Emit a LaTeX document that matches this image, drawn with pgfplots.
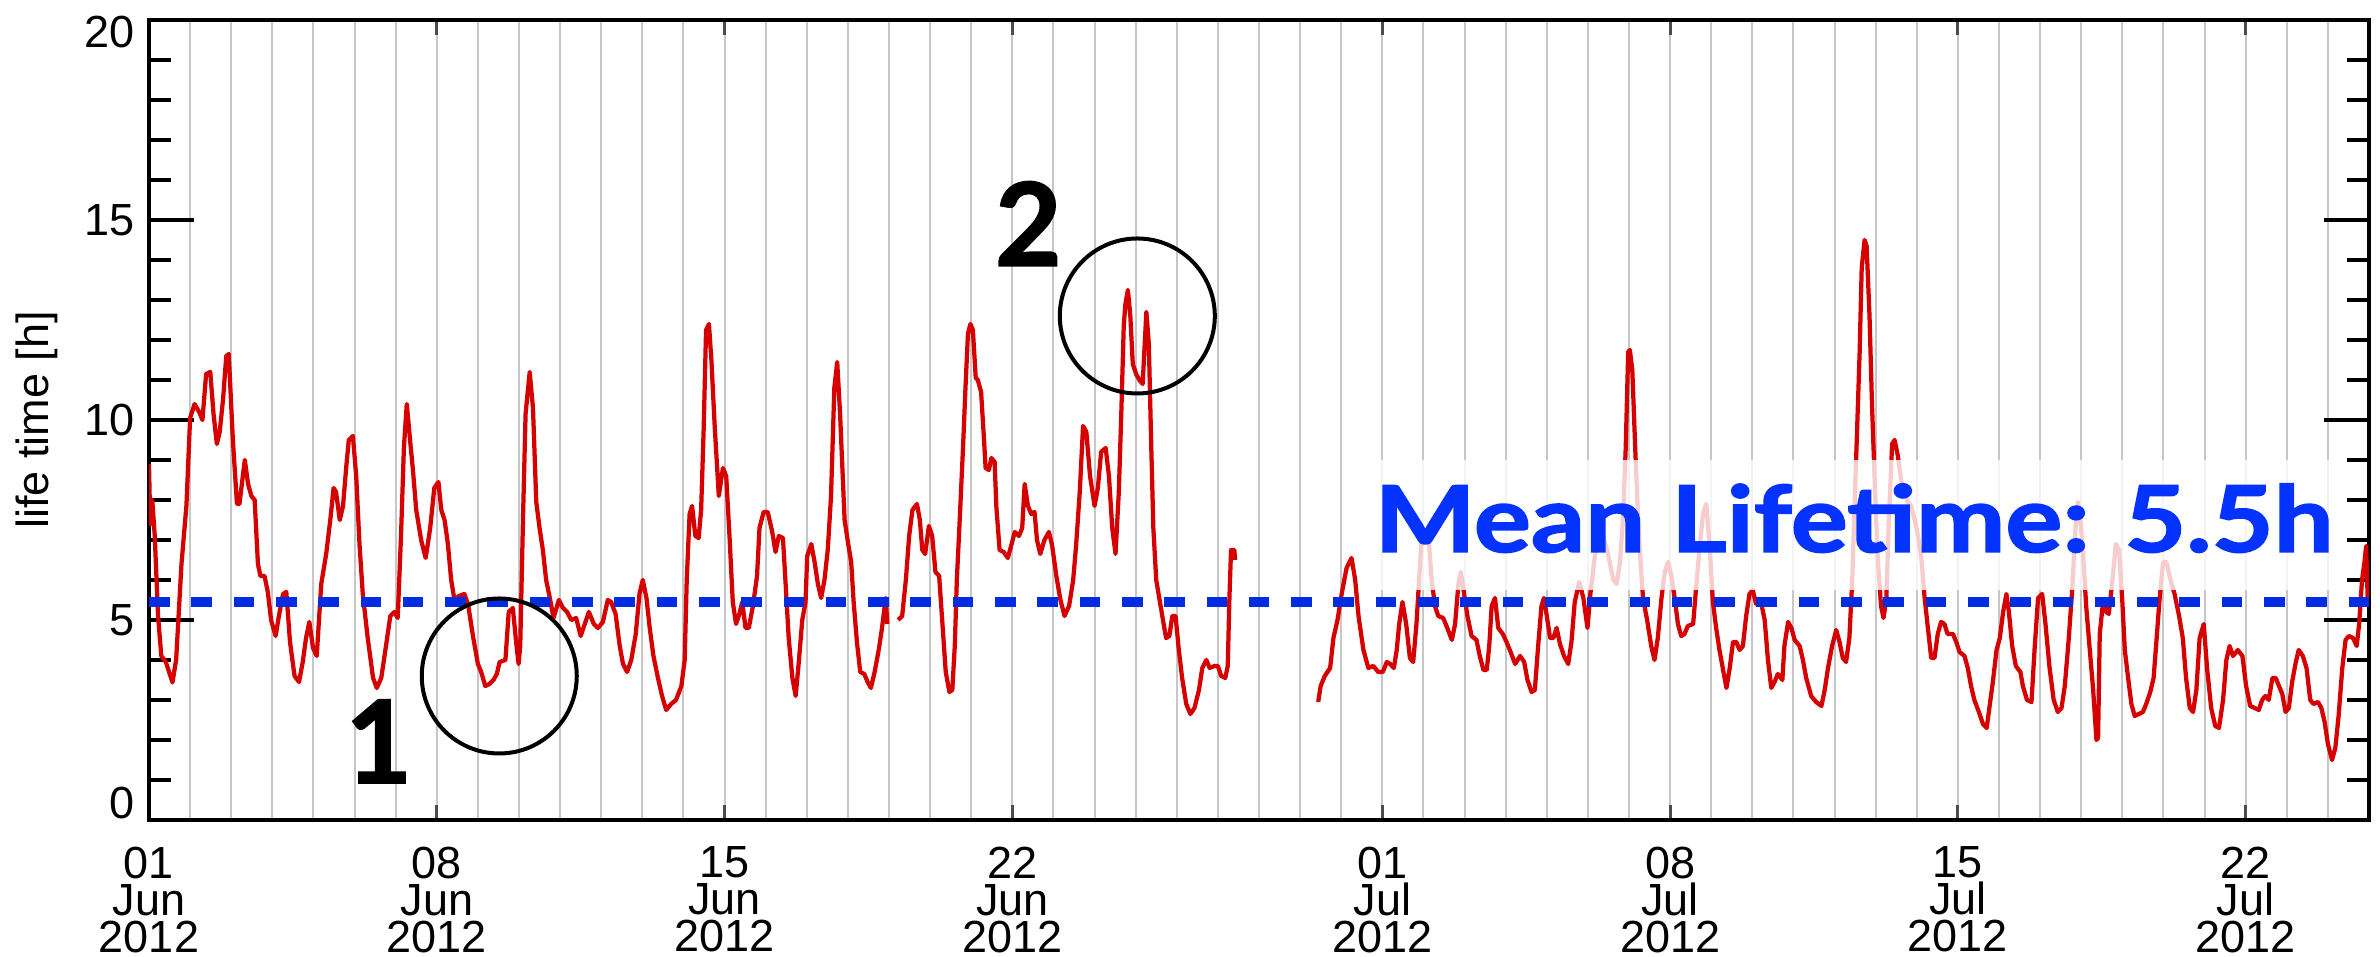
\documentclass[border=0pt]{standalone}
\usepackage{pgfplots}
\pgfplotsset{compat=1.18}
\usepackage{fontspec}
\setmainfont{Liberation Sans}
\newfontfamily\boldfont{Lato}[BoldFeatures={FakeBold=1.6}]
\usetikzlibrary{calc}
\definecolor{lred}{RGB}{215,0,0}
\definecolor{mblue}{RGB}{0,45,225}
\definecolor{tblue}{RGB}{4,51,255}
\begin{document}
\begin{tikzpicture}
\begin{axis}[
  width=444pt, height=160pt, scale only axis,
  xmin=0, xmax=54, ymin=0, ymax=20,
  axis line style={line width=0.75pt},
  xtick={0,7,14,21,30,37,44,51},
  xticklabels={01\\Jun\\2012, 08\\Jun\\2012, 15\\Jun\\2012, 22\\Jun\\2012, 01\\Jul\\2012, 08\\Jul\\2012, 15\\Jul\\2012, 22\\Jul\\2012},
  minor xtick={1,...,53},
  xmajorgrids, xminorgrids,
  major grid style={line width=0.4pt, color=black!22},
  minor grid style={line width=0.4pt, color=black!22},
  xtick style={/pgfplots/major tick length=3pt, /pgfplots/minor tick length=0pt, line width=0.6pt, black!70},
  ytick={0,5,10,15,20}, yticklabels={,5,10,15,},
  minor y tick num=4,
  ytick style={/pgfplots/major tick length=9pt, /pgfplots/minor tick length=4.4pt, line width=0.75pt, black},
  tick align=inside,
  xtick pos=both, ytick pos=both,
  xticklabel pos=lower, yticklabel pos=left,
  xticklabel style={align=center, inner sep=0pt, yshift=-5.2pt, font=\fontsize{9}{7.4}\selectfont},
  yticklabel style={inner sep=0pt, xshift=-2.6pt, font=\fontsize{9}{9}\selectfont},
  /pgf/number format/assume math mode=true,
  ylabel={life time [h]},
  ylabel style={at={(axis description cs:-0.0505,0.5)}, anchor=center, font=\fontsize{9}{9}\selectfont},
  clip mode=individual,
]
\coordinate (ll) at (rel axis cs:0,0);
\coordinate (ur) at (rel axis cs:1,1);
\addplot[lred, line width=0.85pt, line join=round, unbounded coords=jump] coordinates {
(0.00,8.9) (0.03,7.4) (0.08,8.0) (0.14,7.1) (0.22,5.1) (0.30,4.1) (0.41,3.95) (0.57,3.44) (0.66,4.0) (0.79,6.4) (0.91,7.85)
(1.00,10.05) (1.11,10.4) (1.22,10.2) (1.30,10.0) (1.39,11.15) (1.49,11.2) (1.57,10.15) (1.65,9.4) (1.72,9.7) (1.80,10.5) (1.88,11.6) (1.94,11.65)
(2.04,9.5) (2.14,7.9) (2.20,7.9) (2.33,9.0) (2.41,8.4) (2.49,8.1) (2.57,8.0) (2.65,6.4) (2.71,6.1) (2.81,6.1) (2.89,5.7) (2.97,5.0)
(3.08,4.6) (3.16,5.1) (3.26,5.65) (3.34,5.7) (3.43,4.45) (3.54,3.6) (3.65,3.45) (3.74,3.95) (3.82,4.55) (3.90,4.95) (3.99,4.3)
(4.08,4.1) (4.19,5.9) (4.31,6.65) (4.41,7.5) (4.49,8.3) (4.55,8.2) (4.64,7.5) (4.72,7.85) (4.80,8.85) (4.86,9.5) (4.96,9.6)
(5.04,8.6) (5.12,6.9) (5.20,5.65) (5.32,4.55) (5.45,3.55) (5.54,3.3) (5.65,3.55) (5.75,4.25) (5.87,5.1) (5.97,5.2)
(6.05,5.05) (6.13,7.1) (6.20,9.3) (6.27,10.4) (6.35,9.5) (6.42,8.75) (6.50,7.75) (6.62,7.0) (6.73,6.55) (6.84,7.3) (6.94,8.3)
(7.04,8.45) (7.11,7.75) (7.19,7.5) (7.27,6.9) (7.35,6.0) (7.43,5.5) (7.54,5.6) (7.67,5.65) (7.76,5.4) (7.88,4.6)
(8.00,3.9) (8.08,3.7) (8.18,3.35) (8.28,3.4) (8.38,3.5) (8.46,3.65) (8.53,3.95) (8.67,4.0) (8.75,5.2) (8.85,5.3) (8.93,4.45) (8.99,3.9)
(9.03,4.35) (9.10,7.65) (9.16,10.15) (9.26,11.2) (9.34,10.3) (9.42,7.95) (9.50,7.3) (9.58,6.75) (9.66,6.0) (9.75,5.55) (9.84,5.05) (9.97,5.5)
(10.07,5.3) (10.17,5.2) (10.27,5.0) (10.39,5.05) (10.50,4.6) (10.60,4.9) (10.70,5.2) (10.82,4.9) (10.92,4.8)
(11.04,4.95) (11.16,5.5) (11.24,5.45) (11.35,5.15) (11.45,4.35) (11.53,3.9) (11.63,3.7) (11.73,4.0) (11.84,4.65) (11.93,5.65)
(12.01,6.0) (12.10,5.55) (12.18,4.8) (12.27,4.1) (12.38,3.55) (12.48,3.1) (12.58,2.75) (12.70,2.9) (12.82,3.0) (12.95,3.35)
(13.03,4.0) (13.08,6.0) (13.15,7.65) (13.21,7.85) (13.29,7.1) (13.37,7.05) (13.43,7.75) (13.49,9.7) (13.55,12.25) (13.62,12.4) (13.68,11.5) (13.76,9.85) (13.86,8.1) (13.96,8.8)
(14.04,8.6) (14.12,7.1) (14.20,5.45) (14.28,4.9) (14.36,5.15) (14.43,5.45) (14.51,4.8) (14.59,4.8) (14.69,5.35) (14.79,6.1) (14.85,7.3) (14.95,7.7)
(15.05,7.7) (15.16,7.2) (15.24,6.7) (15.32,7.1) (15.42,7.05) (15.48,6.0) (15.56,4.55) (15.65,3.55) (15.73,3.1) (15.81,4.0) (15.89,5.0) (15.97,5.45)
(16.01,6.6) (16.11,6.9) (16.19,6.45) (16.27,5.9) (16.35,5.55) (16.43,6.0) (16.51,6.75) (16.59,8.1) (16.67,10.8) (16.74,11.45) (16.81,10.15) (16.92,7.5)
(17.00,6.95) (17.08,6.45) (17.14,5.45) (17.22,4.45) (17.30,3.7) (17.40,3.65) (17.48,3.45) (17.56,3.3) (17.65,3.7) (17.75,4.25) (17.83,4.8) (17.92,5.55) (17.96,4.9)
(18.1,nan)
(18.22,5.0) (18.32,5.1) (18.41,6.0) (18.49,7.1) (18.57,7.75) (18.68,7.9) (18.75,7.5) (18.81,6.75) (18.88,6.65) (18.97,7.35)
(19.05,7.1) (19.13,6.2) (19.22,6.1) (19.30,4.9) (19.38,3.7) (19.47,3.2) (19.54,3.25) (19.60,4.35) (19.65,6.0) (19.72,7.5) (19.80,9.3) (19.86,10.8) (19.92,12.15) (19.98,12.4)
(20.04,12.25) (20.11,11.05) (20.16,11.0) (20.24,10.7) (20.30,9.7) (20.35,8.8) (20.43,8.75) (20.49,9.05) (20.57,8.95) (20.61,7.85) (20.69,6.75) (20.79,6.7) (20.89,6.55) (20.97,6.85)
(21.06,7.2) (21.16,7.1) (21.24,7.3) (21.30,8.4) (21.38,7.85) (21.46,7.65) (21.54,7.7) (21.60,7.0) (21.68,6.65) (21.78,7.0) (21.89,7.2) (21.97,6.85)
(22.07,6.1) (22.17,5.5) (22.27,5.1) (22.38,5.35) (22.48,6.0) (22.55,6.85) (22.64,8.2) (22.72,9.85) (22.80,9.7) (22.89,8.6)
(23.00,7.85) (23.08,8.3) (23.16,9.2) (23.27,9.3) (23.35,8.6) (23.43,7.3) (23.51,6.65) (23.59,8.2) (23.65,10.15) (23.71,12.35) (23.75,12.9) (23.81,13.25) (23.87,12.6) (23.93,11.4)
(24.01,11.15) (24.09,11.0) (24.17,10.9) (24.26,12.7) (24.32,11.9) (24.38,9.3) (24.43,7.3) (24.50,6.0) (24.59,5.45) (24.68,4.9) (24.74,4.55) (24.82,4.6) (24.89,5.1) (24.97,5.1)
(25.05,4.25) (25.13,3.55) (25.23,2.9) (25.33,2.65) (25.43,2.8) (25.54,3.25) (25.62,3.8) (25.72,4.0) (25.80,3.8) (25.92,3.85)
(26.00,3.85) (26.08,3.6) (26.18,3.55) (26.24,3.85) (26.28,5.55) (26.32,6.75) (26.40,6.75) (26.42,6.5)
(27.5,nan)
(28.44,2.95) (28.50,3.35) (28.60,3.6) (28.73,3.8) (28.81,4.55) (28.91,5.0)
(29.01,5.65) (29.13,6.3) (29.25,6.55) (29.34,6.0) (29.42,5.1) (29.54,4.25) (29.66,3.8) (29.78,3.85) (29.90,3.7)
(30.01,3.7) (30.11,3.95) (30.19,3.9) (30.28,3.8) (30.35,4.25) (30.41,4.9) (30.49,5.45) (30.58,4.9) (30.67,4.05) (30.75,3.95) (30.83,4.9) (30.90,6.1) (30.96,7.1)
(31.04,7.2) (31.12,7.1) (31.20,6.0) (31.28,5.35) (31.36,5.1) (31.48,5.05) (31.58,4.8) (31.69,4.5) (31.77,4.9) (31.85,5.9) (31.91,6.2) (31.99,5.65)
(32.07,5.1) (32.17,4.6) (32.29,4.5) (32.37,4.1) (32.46,3.75) (32.54,3.75) (32.60,4.35) (32.66,5.35) (32.74,5.55) (32.82,4.8) (32.93,4.65)
(33.02,4.45) (33.12,4.2) (33.23,3.9) (33.35,4.1) (33.45,3.95) (33.53,3.5) (33.63,3.2) (33.71,3.25) (33.79,4.35) (33.87,5.35) (33.93,5.55)
(34.00,5.1) (34.08,4.55) (34.16,4.55) (34.24,4.8) (34.32,4.4) (34.42,4.1) (34.52,3.9) (34.60,4.45) (34.68,5.45) (34.79,5.95) (34.89,5.55) (34.99,4.8)
(35.06,5.65) (35.15,6.45) (35.25,7.15) (35.37,7.1) (35.49,6.65) (35.62,6.0) (35.70,5.9) (35.78,6.45) (35.86,7.65) (35.92,9.3) (35.98,11.7)
(36.02,11.75) (36.08,11.25) (36.16,9.05) (36.24,7.1) (36.34,5.55) (36.44,5.0) (36.54,4.35) (36.62,4.0) (36.70,4.55) (36.79,5.55) (36.87,6.2) (36.95,6.45)
(37.03,6.1) (37.11,5.55) (37.19,4.9) (37.27,4.6) (37.35,4.65) (37.43,4.85) (37.56,4.9) (37.62,5.65) (37.72,6.85) (37.80,7.65) (37.88,7.9) (37.96,6.85)
(38.04,5.45) (38.12,4.8) (38.20,4.25) (38.28,3.8) (38.37,3.3) (38.45,3.8) (38.53,4.45) (38.61,4.45) (38.69,4.25) (38.77,4.35) (38.85,5.1) (38.93,5.65)
(39.01,5.75) (39.09,5.4) (39.22,5.4) (39.30,5.0) (39.38,4.0) (39.46,3.3) (39.54,3.45) (39.62,3.65) (39.73,3.5) (39.78,4.35) (39.87,4.95) (39.95,4.8)
(40.03,4.5) (40.15,4.35) (40.23,4.0) (40.31,3.55) (40.43,3.1) (40.55,2.95) (40.68,2.85) (40.76,3.25) (40.84,3.8) (40.94,4.35)
(41.04,4.75) (41.12,4.45) (41.20,4.05) (41.28,3.95) (41.36,4.55) (41.43,6.0) (41.48,7.65) (41.54,9.5) (41.61,11.7) (41.66,13.8) (41.73,14.5) (41.78,14.35) (41.85,12.6) (41.91,10.4) (41.97,8.65)
(42.05,6.55) (42.13,5.35) (42.19,5.05) (42.26,5.55) (42.32,7.5) (42.40,9.4) (42.46,9.5) (42.54,9.1) (42.62,8.5) (42.70,8.2) (42.78,7.95) (42.86,7.85) (42.95,7.5)
(43.03,7.1) (43.11,6.55) (43.19,5.55) (43.27,4.8) (43.35,4.05) (43.43,4.05) (43.51,4.65) (43.59,4.95) (43.67,4.9) (43.75,4.65) (43.88,4.65) (43.96,4.45)
(44.04,4.2) (44.16,4.1) (44.24,3.8) (44.32,3.35) (44.40,3.0) (44.51,2.7) (44.61,2.4) (44.70,2.3) (44.85,3.45) (44.94,4.25)
(45.02,4.55) (45.10,5.2) (45.18,5.65) (45.24,5.2) (45.32,4.35) (45.41,3.85) (45.52,3.7) (45.58,3.35) (45.68,3.0) (45.79,2.95) (45.87,4.35) (45.95,5.55)
(46.05,5.65) (46.13,4.9) (46.23,3.8) (46.33,3.0) (46.43,2.7) (46.52,2.8) (46.60,3.35) (46.69,4.45) (46.78,5.75) (46.86,7.3) (46.92,7.95) (46.98,7.5)
(47.04,6.75) (47.12,5.35) (47.20,4.35) (47.29,3.25) (47.37,2.0) (47.41,2.05) (47.45,4.65) (47.53,5.45) (47.61,5.2) (47.67,5.15) (47.76,6.0) (47.84,6.9) (47.92,6.75)
(48.00,5.45) (48.06,4.25) (48.14,3.55) (48.22,2.9) (48.30,2.6) (48.40,2.65) (48.50,2.7) (48.58,2.9) (48.68,3.2) (48.76,3.55) (48.82,4.35) (48.90,5.45) (48.99,6.45)
(49.07,6.45) (49.17,6.0) (49.27,5.65) (49.38,5.1) (49.47,4.55) (49.55,3.55) (49.64,2.8) (49.72,2.7) (49.80,3.25) (49.88,4.55) (49.98,4.9)
(50.06,3.8) (50.16,2.8) (50.26,2.35) (50.35,2.3) (50.45,3.0) (50.53,4.0) (50.61,4.35) (50.69,4.1) (50.81,4.25) (50.92,4.1)
(51.01,3.35) (51.11,2.85) (51.22,2.8) (51.32,2.75) (51.40,3.0) (51.48,3.1) (51.56,3.0) (51.65,3.55) (51.73,3.55) (51.81,3.35) (51.89,3.15) (51.97,2.7)
(52.05,2.8) (52.13,3.45) (52.21,3.9) (52.29,4.25) (52.39,4.1) (52.48,3.8) (52.57,3.0) (52.65,2.9) (52.76,2.95) (52.84,2.8) (52.92,2.45)
(53.00,1.9) (53.10,1.5) (53.18,1.8) (53.26,2.6) (53.35,3.8) (53.43,4.5) (53.51,4.6) (53.61,4.55) (53.70,4.35) (53.76,4.9) (53.83,6.0) (53.89,6.45) (53.93,6.85) (53.97,5.45)
};
\addplot[mblue, line width=1.85pt, dash pattern=on 4.13pt off 4.33pt] coordinates {(0,5.45) (54,5.45)};
\node[anchor=base west, fill=white, fill opacity=0.8, text opacity=1, inner sep=0pt, text height=18.4pt, text depth=7.6pt, text=tblue, font=\boldfont\bfseries\fontsize{18.4}{18.4}\selectfont] at (axis cs:29.79,6.7) {\scalebox{1.16}[1]{Mean Lifetime: 5.5h}};
\draw[line width=0.8pt] (axis cs:8.52,3.6) circle [radius=15.5pt];
\draw[line width=0.8pt] (axis cs:24.04,12.6) circle [radius=15.5pt];
\node[anchor=base, inner sep=0pt, font=\boldfont\bfseries\fontsize{23}{23}\selectfont] at (axis cs:5.59,0.925) {1};
\node[anchor=base, inner sep=0pt, font=\boldfont\bfseries\fontsize{23}{23}\selectfont] at (axis cs:21.39,13.86) {2};
\end{axis}
\node[anchor=south east, inner sep=0pt, font=\fontsize{9}{9}\selectfont] at ($(ll)+(-2.6pt,0)$) {0};
\node[anchor=north east, inner sep=0pt, font=\fontsize{9}{9}\selectfont] at ($(ll|-ur)+(-2.6pt,1pt)$) {20};
\pgfresetboundingbox
\path[use as bounding box] ($(ll)+(-29.8pt,-27.4pt)$) rectangle ($(ur)+(2.2pt,4pt)$);
\end{tikzpicture}
\end{document}
